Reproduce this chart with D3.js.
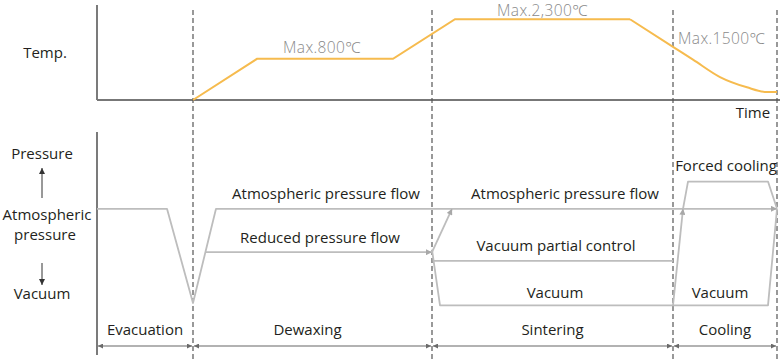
<!DOCTYPE html>
<html>
<head>
<meta charset="utf-8">
<script src="https://cdn.jsdelivr.net/npm/d3@7"></script>
<style>
  body { margin: 0; background: #fff; }
  text { font-family: "Open Sans", "Noto Sans", sans-serif; fill: #231f20; }
  .maxlab { fill: #8a8a8a; font-weight: 300; letter-spacing: 0.4px; }
</style>
</head>
<body>
<div id="chart"></div>
<script>

// phases and their boundaries (time units)
var phases = ['Evacuation', 'Dewaxing', 'Sintering', 'Cooling'];
var bounds = [0, 96, 335, 576, 680];

// temperature profile [time, level]
var tempRise = [[96, 0], [160, 52], [296, 52], [358, 102], [533, 102]];
var tempCool = [[533, 102], [576, 67], [596, 51], [623, 29], [650, 16], [670, 10], [680, 10]];
var tempLabels = ['Max.800℃', 'Max.2,300℃', 'Max.1500℃'];

// pressure levels
var lvVac = 0, lvBottom = 2, lvPartial = 36, lvReduced = 43, lvAtm = 78, lvForced = 100;

// pressure paths [time, level], arrow = arrowhead at end
var pressPaths = [
    { pts: [[0, lvAtm], [70, lvAtm], [96, lvBottom], [119, lvAtm], [680, lvAtm]], arrow: true },
    { pts: [[109, lvReduced], [335, lvReduced]], arrow: true },
    { pts: [[335, lvReduced], [355, lvAtm]], arrow: true },
    { pts: [[337, lvPartial], [576, lvPartial]], arrow: false },
    { pts: [[335, lvReduced + 2], [343, lvVac], [671, lvVac], [680, lvAtm]], arrow: false },
    { pts: [[576, lvVac], [586, lvAtm]], arrow: true },
    { pts: [[586, lvAtm], [591, lvForced], [671, lvForced], [680, lvAtm]], arrow: false }
];

var width = 780, height = 362;

var svg = d3.select('#chart').append('svg')
    .attr('width', width)
    .attr('height', height);

var defs = svg.append('defs');
function marker(id, color, w, h) {
    defs.append('marker')
        .attr('id', id)
        .attr('viewBox', '0 0 10 10')
        .attr('refX', 10).attr('refY', 5)
        .attr('markerUnits', 'userSpaceOnUse')
        .attr('markerWidth', w).attr('markerHeight', h)
        .attr('orient', 'auto-start-reverse')
        .append('path')
        .attr('d', 'M0,0L10,5L0,10Z')
        .attr('fill', color);
}
marker('arrGray', '#a8a8a8', 8, 6);
marker('arrPhase', '#6a6a6a', 7, 5);
marker('arrDark', '#333', 6, 6);

var x = d3.scaleLinear().domain([0, 683]).range([97, 780]);
var yT = d3.scaleLinear().domain([0, 120]).range([100, 5]);
var yP = d3.scaleLinear().domain([-40, 140]).range([355, 132]);

// top panel axes
svg.append('line')
    .attr('x1', x(0)).attr('x2', x(0))
    .attr('y1', yT(0)).attr('y2', yT(120))
    .attr('stroke', '#333').attr('stroke-width', 1.3);
svg.append('line')
    .attr('x1', x(0)).attr('x2', x(683))
    .attr('y1', yT(0)).attr('y2', yT(0))
    .attr('stroke', '#777').attr('stroke-width', 2);

// bottom panel axis
svg.append('line')
    .attr('x1', x(0)).attr('x2', x(0))
    .attr('y1', yP(-40)).attr('y2', yP(140))
    .attr('stroke', '#333').attr('stroke-width', 1.3);

// phase separators
svg.append('g').selectAll('line')
    .data(bounds.slice(1))
    .enter().append('line')
    .attr('x1', d => x(d)).attr('x2', d => x(d))
    .attr('y1', 10).attr('y2', height)
    .attr('stroke', '#555').attr('stroke-width', 1.2)
    .attr('stroke-dasharray', '5,3');

// temperature line
var line = d3.line().x(d => x(d[0])).y(d => yT(d[1]));
svg.append('path')
    .attr('d', line(tempRise))
    .attr('fill', 'none').attr('stroke', '#f6bb4e').attr('stroke-width', 2);
svg.append('path')
    .attr('d', line.curve(d3.curveMonotoneX)(tempCool))
    .attr('fill', 'none').attr('stroke', '#f6bb4e').attr('stroke-width', 2);

svg.append('text').attr('class', 'maxlab')
    .attr('x', x(186)).attr('y', yT(52) - 6)
    .style('font-size', '15.5px').text(tempLabels[0]);
svg.append('text').attr('class', 'maxlab')
    .attr('x', x(400)).attr('y', yT(102) - 3)
    .style('font-size', '15.5px').text(tempLabels[1]);
svg.append('text').attr('class', 'maxlab')
    .attr('x', x(581)).attr('y', 44)
    .style('font-size', '15.5px').text(tempLabels[2]);

svg.append('text').attr('x', 45).attr('y', 58)
    .attr('text-anchor', 'middle').style('font-size', '15px').text('Temp.');
svg.append('text').attr('x', 753).attr('y', 118)
    .attr('text-anchor', 'middle').style('font-size', '15px').text('Time');

// pressure lines
var pline = d3.line().x(d => x(d[0])).y(d => yP(d[1]));
svg.append('g').selectAll('path')
    .data(pressPaths)
    .enter().append('path')
    .attr('d', d => pline(d.pts))
    .attr('fill', 'none')
    .attr('stroke', '#bdbdbd').attr('stroke-width', 1.8)
    .attr('stroke-linejoin', 'round')
    .attr('marker-end', d => d.arrow ? 'url(#arrGray)' : null);

// pressure texts
var ptexts = [
    { t: 'Atmospheric pressure flow', x: 326, y: yP(lvAtm) - 10 },
    { t: 'Atmospheric pressure flow', x: 565, y: yP(lvAtm) - 10 },
    { t: 'Reduced pressure flow', x: 320, y: yP(lvReduced) - 9 },
    { t: 'Vacuum partial control', x: 556, y: yP(lvPartial) - 10 },
    { t: 'Vacuum', x: 555, y: yP(lvVac) - 7 },
    { t: 'Vacuum', x: 720, y: yP(lvVac) - 7 },
    { t: 'Forced cooling', x: 726, y: yP(lvForced) - 11 }
];
svg.append('g').selectAll('text')
    .data(ptexts)
    .enter().append('text')
    .attr('x', d => d.x).attr('y', d => d.y)
    .attr('text-anchor', 'middle')
    .style('font-size', '15px')
    .text(d => d.t);

// left labels
var left = svg.append('g').attr('text-anchor', 'middle').style('font-size', '15px');
left.append('text').attr('x', 42).attr('y', 159).text('Pressure');
left.append('text').attr('x', 47).attr('y', 220).text('Atmospheric');
left.append('text').attr('x', 45).attr('y', 240).text('pressure');
left.append('text').attr('x', 42).attr('y', 299).text('Vacuum');
left.append('line').attr('x1', 42).attr('x2', 42).attr('y1', 198).attr('y2', 168)
    .attr('stroke', '#333').attr('stroke-width', 1).attr('marker-end', 'url(#arrDark)');
left.append('line').attr('x1', 42).attr('x2', 42).attr('y1', 263).attr('y2', 285)
    .attr('stroke', '#333').attr('stroke-width', 1).attr('marker-end', 'url(#arrDark)');

// phase arrows and names
var ph = svg.append('g').selectAll('g')
    .data(phases)
    .enter().append('g');
ph.append('line')
    .attr('x1', (d, i) => x(bounds[i]) + 1)
    .attr('x2', (d, i) => x(bounds[i + 1]) - 1)
    .attr('y1', 346).attr('y2', 346)
    .attr('stroke', '#999').attr('stroke-width', 1.5)
    .attr('marker-start', 'url(#arrPhase)')
    .attr('marker-end', 'url(#arrPhase)');
ph.append('text')
    .attr('x', (d, i) => (x(bounds[i]) + x(bounds[i + 1])) / 2 + (i == 1 ? -5 : 0))
    .attr('y', 335)
    .attr('text-anchor', 'middle')
    .style('font-size', '15px')
    .text(d => d);

</script>
</body>
</html>
